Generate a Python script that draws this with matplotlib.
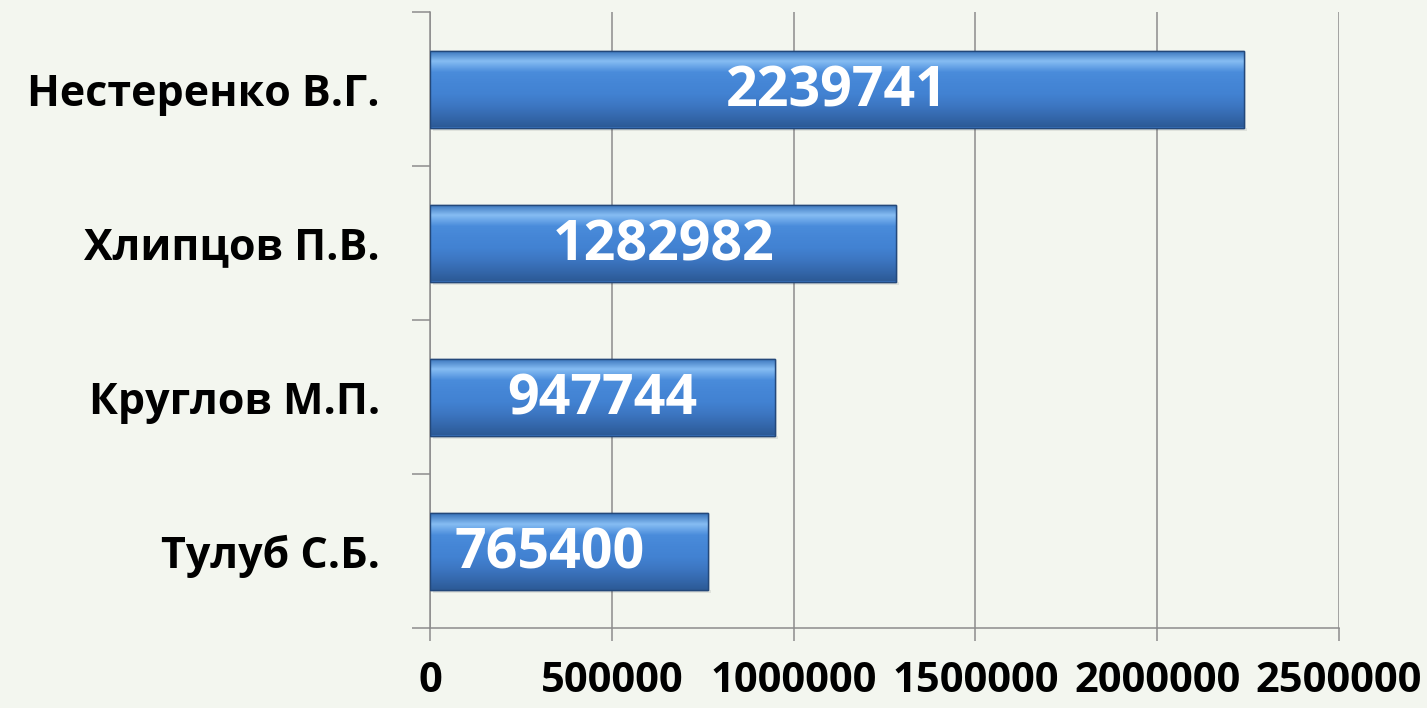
import numpy as np
import matplotlib.pyplot as plt
from matplotlib.colors import LinearSegmentedColormap

# data
names = ['Нестеренко В.Г.', 'Хлипцов П.В.', 'Круглов М.П.', 'Тулуб С.Б.']
values = [2239741, 1282982, 947744, 765400]
x_ticks = [0, 500000, 1000000, 1500000, 2000000, 2500000]
label_shift = [0, 0, 0, -14]  # points, last label sits left of centre

plt.rcParams['font.family'] = ['Open Sans', 'DejaVu Sans']

fig = plt.figure(figsize=(14.27, 7.08), dpi=100)
fig.patch.set_facecolor('#f3f6ef')
ax = fig.add_axes([430 / 1427, 1 - 628 / 708, 909 / 1427, 616 / 708])
ax.set_facecolor('none')

pos = np.arange(len(names))[::-1]
bars = ax.barh(pos, values, height=0.5, color='#3d7acb', edgecolor='#23487a',
               linewidth=1.0, zorder=3)

# vertical gradient in each bar, clipped to the bar shape
grad = LinearSegmentedColormap.from_list(
    'bar', ['#2c5a96', '#3569ae', '#3d77c3', '#4282d2', '#4586d6', '#4a8cdb',
            '#86bdf3', '#3570b8'])
g = np.linspace(0, 1, 256).reshape(-1, 1)
for b in bars:
    x0, y0, w, h = b.get_x(), b.get_y(), b.get_width(), b.get_height()
    im = ax.imshow(g, cmap=grad, aspect='auto', origin='lower',
                   extent=[x0, x0 + w, y0, y0 + h], zorder=3.5)
    im.set_clip_path(b)
    # soft shadow below bar
    ax.fill_between([x0 + 8000, x0 + w + 8000], y0 - 0.025, y0,
                    color='#000000', alpha=0.08, lw=0, zorder=2.5)
    ax.add_patch(plt.Rectangle((x0, y0), w, h, fill=False, ec='#23487a',
                               lw=1.0, zorder=4))

for p, v, s in zip(pos, values, label_shift):
    ax.annotate(str(v), (v / 2, p), xytext=(s, -2), textcoords='offset points',
                ha='center', va='center', color='white', fontsize=40,
                fontweight='bold', zorder=5)

ax.set_xlim(0, 2500000)
ax.set_ylim(-0.5, len(names) - 0.5)
ax.set_xticks(x_ticks)
ax.set_xticklabels([str(t) for t in x_ticks], fontsize=30, fontweight='bold')
ax.set_yticks(pos)
ax.set_yticklabels(names, fontsize=31, fontweight='bold')
ax.tick_params(axis='y', which='major', length=0, pad=36)
ax.set_yticks(np.arange(-0.5, len(names), 1.0), minor=True)
ax.tick_params(axis='y', which='minor', length=13, width=1.1, color='#8c8c8c')
ax.tick_params(axis='x', which='major', length=9, width=1.1, color='#8c8c8c',
               pad=15)

ax.grid(axis='x', color='#8c8c8c', linewidth=1.1, zorder=0)
ax.set_axisbelow(True)
for side in ['top', 'right']:
    ax.spines[side].set_visible(False)
for side in ['left', 'bottom']:
    ax.spines[side].set_color('#8c8c8c')
    ax.spines[side].set_linewidth(1.1)

fig.savefig('out.png', dpi=100, facecolor=fig.get_facecolor())
